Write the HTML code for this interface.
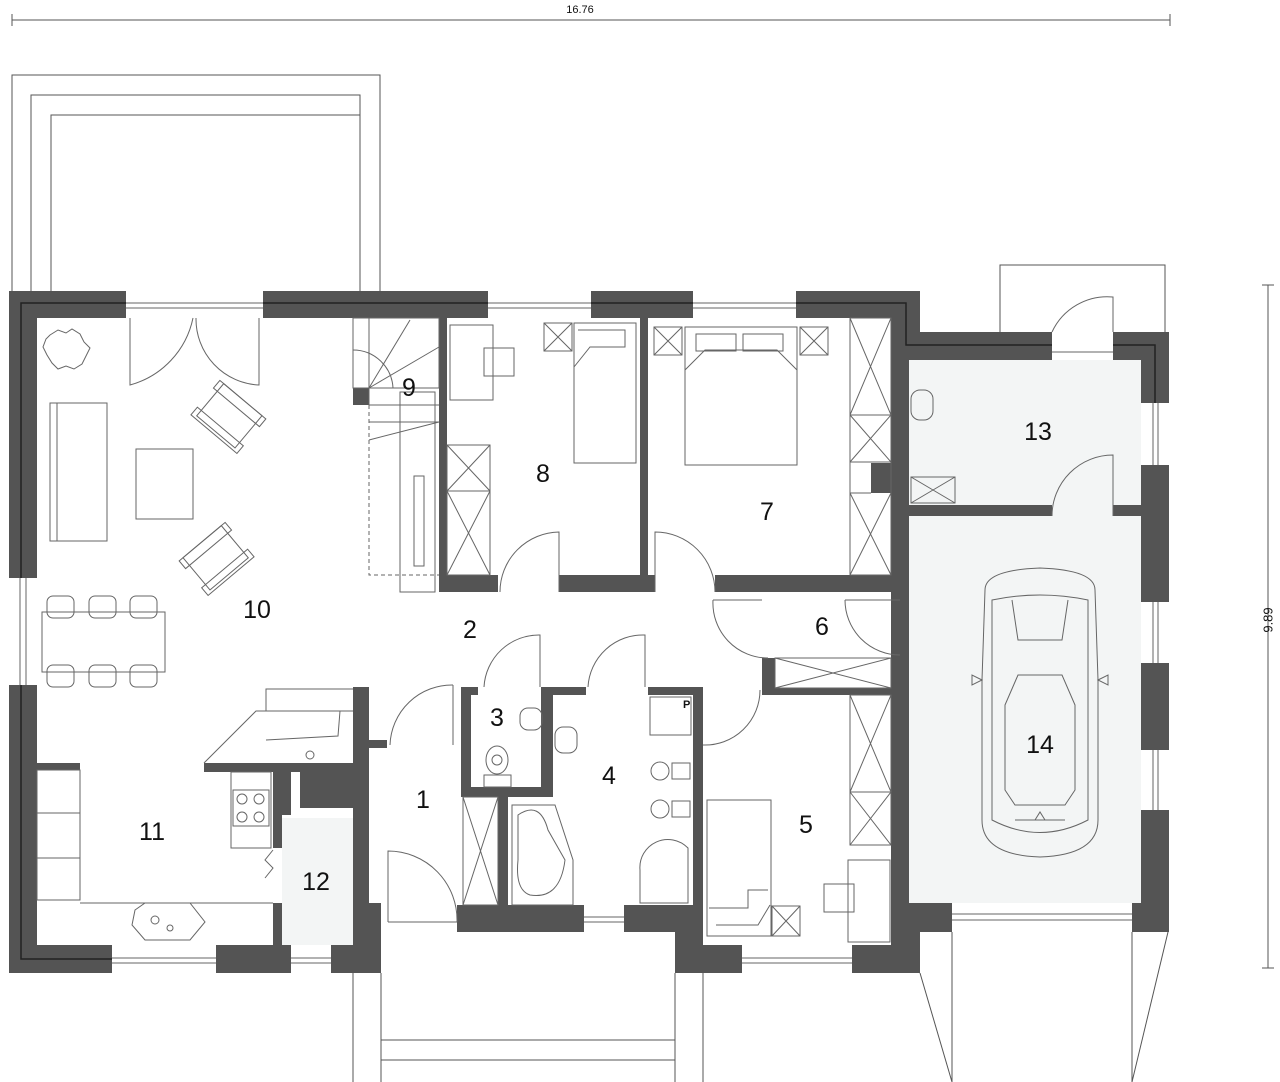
<!DOCTYPE html>
<html><head><meta charset="utf-8"><style>
html,body{margin:0;padding:0;background:#fff}
svg{display:block}
text{font-family:"Liberation Sans",Arial,sans-serif;fill:#111}
.l{font-size:25px;text-anchor:middle;dominant-baseline:central}
</style></head><body>
<svg width="1280" height="1082" viewBox="0 0 1280 1082" xmlns="http://www.w3.org/2000/svg">
<rect x="909" y="360" width="232" height="543" fill="#f3f5f5"/>
<rect x="282" y="818" width="71" height="127" fill="#f3f5f5"/>

<g fill="none" stroke="#555" stroke-width="1">
<line x1="12" y1="20" x2="1170" y2="20"/>
<line x1="12" y1="14" x2="12" y2="26"/><line x1="1170" y1="14" x2="1170" y2="26"/>
<line x1="1268" y1="285" x2="1268" y2="968"/>
<line x1="1262" y1="285" x2="1274" y2="285"/><line x1="1262" y1="968" x2="1274" y2="968"/>
<polyline points="12,291 12,75 380,75 380,291"/>
<polyline points="31,291 31,95 360,95 360,291"/>
<polyline points="51,291 51,115 360,115"/>
<polyline points="1000,332 1000,265 1165,265 1165,332"/>
<polyline points="353,973 353,1082"/><polyline points="381,973 381,1082"/>
<line x1="381" y1="1040" x2="675" y2="1040"/><line x1="381" y1="1060" x2="675" y2="1060"/>
<line x1="675" y1="973" x2="675" y2="1082"/><line x1="703" y1="973" x2="703" y2="1082"/>
<line x1="920" y1="973" x2="952" y2="1082"/><line x1="1168" y1="932" x2="1132" y2="1082"/>
<line x1="952" y1="932" x2="952" y2="1082"/><line x1="1132" y1="932" x2="1132" y2="1082"/>
</g>

<g fill="#545454">
<rect x="9" y="291" width="117" height="27"/>
<rect x="263" y="291" width="225" height="27"/>
<rect x="591" y="291" width="102" height="27"/>
<rect x="796" y="291" width="124" height="27"/>
<rect x="891" y="291" width="29" height="69"/>
<rect x="891" y="332" width="161" height="28"/>
<rect x="1113" y="332" width="56" height="28"/>
<rect x="1141" y="360" width="28" height="43"/>
<rect x="1141" y="465" width="28" height="137"/>
<rect x="1141" y="663" width="28" height="87"/>
<rect x="1141" y="810" width="28" height="122"/>
<rect x="891" y="318" width="18" height="585"/>
<rect x="891" y="903" width="61" height="29"/>
<rect x="891" y="932" width="29" height="41"/>
<rect x="1132" y="903" width="37" height="29"/>
<rect x="909" y="505" width="143" height="11"/>
<rect x="1113" y="505" width="28" height="11"/>
<rect x="9" y="291" width="28" height="287"/>
<rect x="9" y="685" width="28" height="288"/>
<rect x="9" y="945" width="103" height="28"/>
<rect x="216" y="945" width="75" height="28"/>
<rect x="331" y="945" width="50" height="28"/>
<rect x="353" y="687" width="16" height="258"/>
<rect x="369" y="903" width="12" height="70"/>
<rect x="369" y="740" width="18" height="8"/>
<rect x="457" y="905" width="127" height="27"/>
<rect x="624" y="905" width="79" height="27"/>
<rect x="675" y="905" width="28" height="68"/>
<rect x="675" y="945" width="67" height="28"/>
<rect x="852" y="945" width="68" height="28"/>
<rect x="461" y="687" width="10" height="110"/>
<rect x="461" y="687" width="17" height="8"/>
<rect x="541" y="687" width="12" height="110"/>
<rect x="541" y="687" width="45" height="8"/>
<rect x="461" y="787" width="92" height="10"/>
<rect x="498" y="797" width="10" height="108"/>
<rect x="648" y="687" width="55" height="8"/>
<rect x="693" y="687" width="10" height="218"/>
<rect x="762" y="688" width="129" height="7"/>
<rect x="762" y="658" width="13" height="37"/>
<rect x="640" y="575" width="15" height="17"/>
<rect x="715" y="575" width="194" height="17"/>
<rect x="871" y="463" width="20" height="30"/>
<rect x="439" y="318" width="8" height="274"/>
<rect x="439" y="575" width="59" height="17"/>
<rect x="559" y="575" width="89" height="17"/>
<rect x="640" y="318" width="8" height="274"/>
<rect x="353" y="388" width="16" height="17"/>
<rect x="204" y="763" width="149" height="9"/>
<rect x="273" y="763" width="9" height="85"/>
<rect x="273" y="903" width="9" height="42"/>
<rect x="300" y="772" width="53" height="36"/>
<rect x="282" y="772" width="9" height="43"/>
<rect x="37" y="763" width="43" height="7"/>
</g>
<g fill="none" stroke="#222" stroke-width="1.5">
<polyline points="21,578 21,303 126,303"/>
<line x1="263" y1="303" x2="488" y2="303"/>
<line x1="591" y1="303" x2="693" y2="303"/>
<polyline points="796,303 906,303 906,345 1052,345"/>
<polyline points="1113,345 1155,345 1155,403"/>
<polyline points="21,685 21,959 112,959"/>
</g>

<g fill="none" stroke="#666" stroke-width="1">
<line x1="126" y1="303" x2="263" y2="303"/><line x1="126" y1="308" x2="263" y2="308"/>
<line x1="488" y1="303" x2="591" y2="303"/><line x1="488" y1="308" x2="591" y2="308"/>
<line x1="693" y1="303" x2="796" y2="303"/><line x1="693" y1="308" x2="796" y2="308"/>
<line x1="20" y1="578" x2="20" y2="685"/><line x1="26" y1="578" x2="26" y2="685"/>
<line x1="112" y1="958" x2="216" y2="958"/><line x1="112" y1="963" x2="216" y2="963"/>
<line x1="291" y1="958" x2="331" y2="958"/><line x1="291" y1="963" x2="331" y2="963"/>
<line x1="584" y1="917" x2="624" y2="917"/><line x1="584" y1="922" x2="624" y2="922"/>
<line x1="742" y1="958" x2="852" y2="958"/><line x1="742" y1="963" x2="852" y2="963"/>
<line x1="1153" y1="403" x2="1153" y2="465"/><line x1="1158" y1="403" x2="1158" y2="465"/>
<line x1="1153" y1="602" x2="1153" y2="663"/><line x1="1158" y1="602" x2="1158" y2="663"/>
<line x1="1153" y1="750" x2="1153" y2="810"/><line x1="1158" y1="750" x2="1158" y2="810"/>
<line x1="952" y1="914" x2="1132" y2="914"/><line x1="952" y1="920" x2="1132" y2="920"/>

<path d="M130,318 V385 A88,88 0 0 0 193,318"/>
<path d="M259,318 V385 A66,66 0 0 1 196,318"/>
<path d="M453,685 V745 M453,685 A62,62 0 0 0 390,745"/>
<path d="M388,922 V851 A69,69 0 0 1 457,922 M388,922 H457"/>
<path d="M559,592 V532 A60,60 0 0 0 500,592"/>
<path d="M655,592 V532 A60,60 0 0 1 715,592"/>
<path d="M540,687 V635 A55,55 0 0 0 484,687"/>
<path d="M645,687 V635 A55,55 0 0 0 588,687"/>
<path d="M713,600 H762 M713,600 A55,55 0 0 0 768,658"/>
<path d="M900,600 H845 M845,600 A55,55 0 0 0 900,655"/>
<path d="M703,745 A55,55 0 0 0 760,690"/>
<path d="M1113,516 V455 A61,61 0 0 0 1052,516"/>
<path d="M1113,332 V297 A61,61 0 0 0 1052,332 M1113,352 H1052"/>

<rect x="353" y="318" width="86" height="70"/>
<line x1="369" y1="318" x2="369" y2="405"/>
<line x1="369" y1="388" x2="439" y2="388"/><line x1="369" y1="405" x2="439" y2="405"/>
<line x1="369" y1="388" x2="410" y2="320"/><line x1="369" y1="388" x2="439" y2="347"/>
<path d="M353,350 A40,40 0 0 1 393,388"/>
<line x1="369" y1="422" x2="439" y2="422"/><line x1="369" y1="440" x2="439" y2="422"/>
<path d="M369,405 V575 H439" stroke-dasharray="4,3"/>
<rect x="400" y="392" width="35" height="200"/>
<rect x="414" y="476" width="10" height="90"/>

<path d="M50,335 l8,-5 8,3 6,-4 8,5 4,8 6,6 -4,8 -4,8 -8,5 -8,-3 -8,3 -6,-6 -5,-8 -4,-8 3,-8z"/>
<rect x="50" y="403" width="57" height="138"/><line x1="57" y1="403" x2="57" y2="541"/>
<rect x="136" y="449" width="57" height="70"/>
<g transform="rotate(40 230 415)"><rect x="205" y="395" width="50" height="42"/><rect x="200" y="395" width="60" height="10"/><rect x="200" y="430" width="60" height="10"/></g>
<g transform="rotate(-40 215 557)"><rect x="190" y="537" width="50" height="42"/><rect x="185" y="537" width="60" height="10"/><rect x="185" y="572" width="60" height="10"/></g>
<rect x="42" y="612" width="123" height="60"/>
<rect x="47" y="596" width="27" height="22" rx="6"/><rect x="89" y="596" width="27" height="22" rx="6"/><rect x="130" y="596" width="27" height="22" rx="6"/>
<rect x="47" y="665" width="27" height="22" rx="6"/><rect x="89" y="665" width="27" height="22" rx="6"/><rect x="130" y="665" width="27" height="22" rx="6"/>

<path d="M204,763 L256,711 H353 M266,711 V689 H353 M266,740 L338,736 L340,711"/>
<circle cx="310" cy="755" r="4"/>
<rect x="37" y="770" width="43" height="130"/>
<line x1="37" y1="813" x2="80" y2="813"/><line x1="37" y1="858" x2="80" y2="858"/>
<path d="M80,903 H273 M37,900 H80"/>
<rect x="231" y="772" width="40" height="76"/>
<rect x="233" y="790" width="36" height="36"/>
<circle cx="242" cy="799" r="5"/><circle cx="259" cy="799" r="5"/><circle cx="242" cy="817" r="5"/><circle cx="259" cy="817" r="5"/>
<path d="M273,850 l-8,10 8,8 -8,10"/>
<path d="M135,910 L145,903 H190 L205,922 L190,940 H145 L132,925z"/>
<circle cx="155" cy="920" r="4"/><circle cx="170" cy="928" r="3"/>

<rect x="450" y="325" width="43" height="75"/><rect x="484" y="348" width="30" height="28"/>
<rect x="544" y="323" width="28" height="28"/><path d="M544,323 L572,351 M572,323 L544,351"/>
<rect x="574" y="323" width="62" height="140"/><path d="M578,330 H625 V347 H590 L574,367"/>
<rect x="447" y="445" width="43" height="130"/>
<path d="M447,445 L490,491 M490,445 L447,491 M447,491 H490 M447,491 L490,575 M490,491 L447,575"/>

<rect x="654" y="327" width="28" height="28"/><path d="M654,327 L682,355 M682,327 L654,355"/>
<rect x="800" y="327" width="28" height="28"/><path d="M800,327 L828,355 M828,327 L800,355"/>
<rect x="685" y="327" width="112" height="138"/>
<rect x="696" y="334" width="40" height="17"/><rect x="743" y="334" width="40" height="17"/>
<path d="M685,370 L705,350 H720 M797,370 L777,350 H760 M705,350 H777"/>
<rect x="850" y="318" width="41" height="257"/>
<path d="M850,318 L891,415 M891,318 L850,415 M850,415 H891 L850,462 M850,415 L891,462 M850,462 H891 M850,493 H871 M850,493 L891,575 M891,493 L850,575"/>

<rect x="775" y="658" width="116" height="30"/>
<path d="M775,658 L891,688 M891,658 L775,688"/>

<rect x="520" y="708" width="22" height="22" rx="8"/>
<rect x="555" y="727" width="22" height="26" rx="8"/>
<ellipse cx="497" cy="760" rx="11" ry="14"/><circle cx="497" cy="760" r="5"/><rect x="484" y="775" width="27" height="12"/>
<rect x="463" y="797" width="35" height="108"/><path d="M463,797 L498,905 M498,797 L463,905"/>
<path d="M512,905 V805 H555 L573,860 V905z"/>
<path d="M518,815 Q540,800 548,830 L565,860 Q560,900 530,895 Q515,890 518,860z"/>
<rect x="650" y="697" width="41" height="38"/>
<circle cx="660" cy="771" r="9"/><rect x="672" y="763" width="18" height="16"/>
<circle cx="660" cy="809" r="9"/><rect x="672" y="801" width="18" height="16"/>
<path d="M640,903 V870 A28,28 0 0 1 688,848 V903z"/>

<rect x="707" y="800" width="64" height="136"/>
<path d="M709,908 H748 V890 H768 M716,925 H758 L770,905"/>
<rect x="772" y="906" width="28" height="30"/><path d="M772,906 L800,936 M800,906 L772,936"/>
<rect x="848" y="860" width="42" height="82"/><rect x="824" y="884" width="30" height="28"/>
<rect x="850" y="695" width="41" height="150"/>
<path d="M850,695 L891,792 M891,695 L850,792 M850,792 H891 L850,845 M850,792 L891,845"/>

<rect x="911" y="390" width="22" height="30" rx="9"/>
<rect x="911" y="477" width="44" height="26"/><path d="M911,477 L955,503 M955,477 L911,503"/>

<path d="M985,590 Q985,570 1040,568 Q1095,570 1095,590 L1098,680 V820 Q1098,855 1040,857 Q982,855 982,820 V680z"/>
<path d="M992,600 Q1040,590 1088,600 L1088,820 Q1040,845 992,820z"/>
<path d="M1012,600 L1018,640 H1062 L1068,600 M1005,705 L1018,675 H1062 L1075,705 V790 L1065,805 H1015 L1005,790z"/>
<path d="M1015,820 H1065 M1035,820 l5,-8 5,8"/>
<path d="M982,680 L972,675 V685z M1098,680 L1108,675 V685z"/>
</g>

<text x="683" y="708" style="font-size:11px;font-weight:bold">P</text>
<text x="580" y="10" style="font-size:11px" text-anchor="middle" dominant-baseline="central">16.76</text>
<text x="1268" y="620" style="font-size:13px" text-anchor="middle" dominant-baseline="central" transform="rotate(-90 1268 620)">9.89</text>

<text class="l" x="423" y="800">1</text>
<text class="l" x="470" y="630">2</text>
<text class="l" x="497" y="718">3</text>
<text class="l" x="609" y="776">4</text>
<text class="l" x="806" y="825">5</text>
<text class="l" x="822" y="627">6</text>
<text class="l" x="767" y="512">7</text>
<text class="l" x="543" y="474">8</text>
<text class="l" x="409" y="388">9</text>
<text class="l" x="257" y="610">10</text>
<text class="l" x="152" y="832">11</text>
<text class="l" x="316" y="882">12</text>
<text class="l" x="1038" y="432">13</text>
<text class="l" x="1040" y="745">14</text>
</svg>
</body></html>
